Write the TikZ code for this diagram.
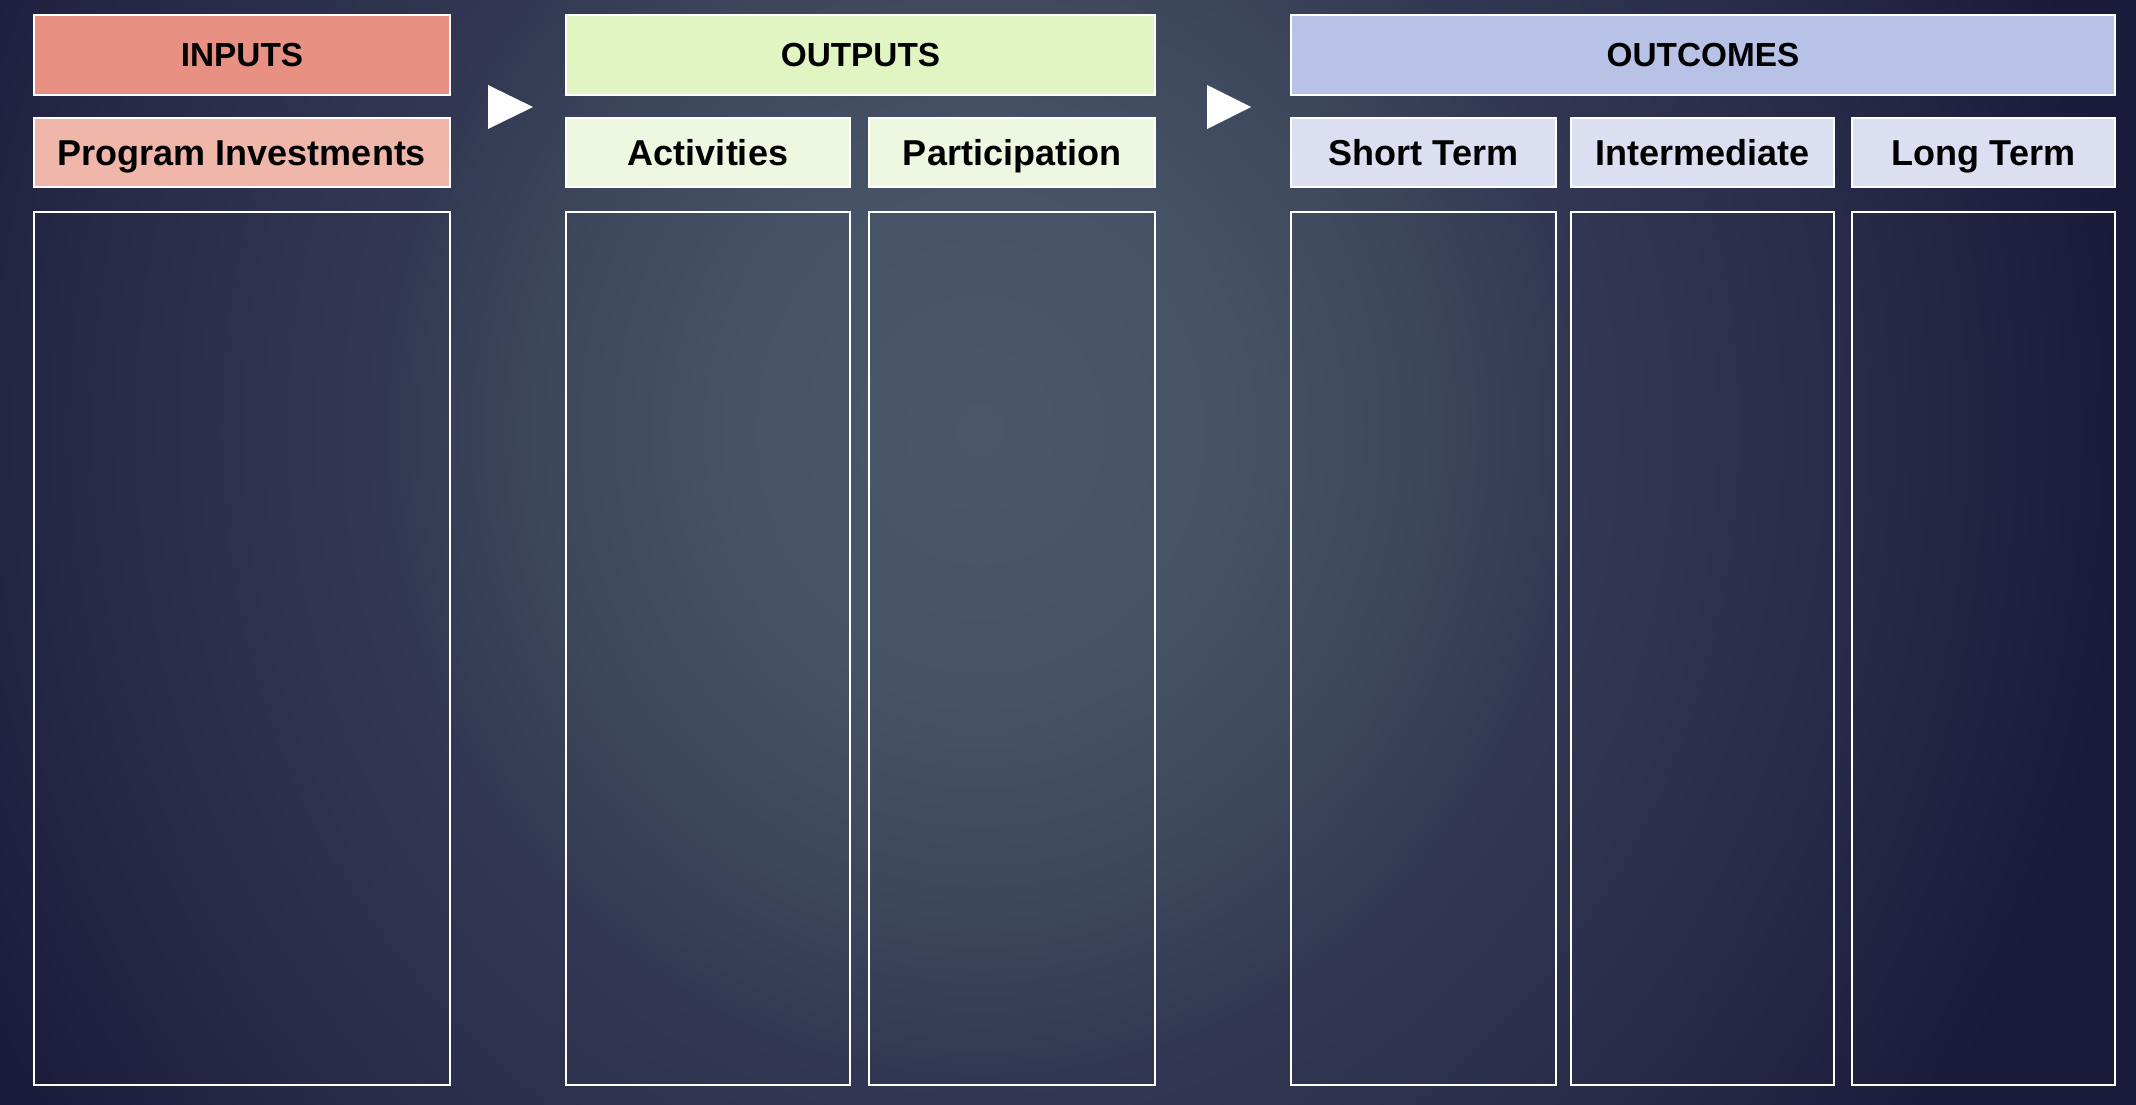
\documentclass[tikz,border=0pt]{standalone}
\usepackage{fontspec}
\setmainfont{Liberation Sans}
\definecolor{bgA}{HTML}{4B586A}
\definecolor{bgB}{HTML}{465266}
\definecolor{bgC}{HTML}{3E485C}
\definecolor{bgD}{HTML}{323853}
\definecolor{bgE}{HTML}{262946}
\definecolor{bgF}{HTML}{1A1A3A}
\definecolor{inHdr}{HTML}{E89182}
\definecolor{inSub}{HTML}{EFB6A9}
\definecolor{outHdr}{HTML}{E0F5C2}
\definecolor{outSub}{HTML}{EEF8E1}
\definecolor{ocHdr}{HTML}{B8C1E6}
\definecolor{ocSub}{HTML}{DCDFF2}
\pgfdeclareradialshading{bgsh}{\pgfpoint{0bp}{0bp}}{color(0bp)=(bgA); color(5.4bp)=(bgB); color(9.3bp)=(bgC); color(13bp)=(bgD); color(20bp)=(bgE); color(25bp)=(bgF); color(50bp)=(bgF)}
\tikzset{
  hdrbox/.style={draw=white, line width=1.8pt, inner sep=0pt, minimum height=60pt,
    text height=17.9pt, text depth=0pt, font=\fontsize{25}{25}\selectfont\bfseries, text=black},
  subbox/.style={draw=white, line width=1.8pt, inner sep=0pt, minimum height=51.75pt,
    text height=19.3pt, text depth=0pt, font=\fontsize{27}{27}\selectfont\bfseries, text=black},
  colbox/.style={draw=white, line width=1.3pt, inner sep=0pt, minimum height=654.75pt},
  tri/.style={fill=white, draw=none}
}
\begin{document}
\begin{tikzpicture}[x=0.75pt, y=-0.75pt]
\useasboundingbox (0,0) rectangle (2136,1104);
\fill[bgF] (-6,-6) rectangle (2142,1110);
\begin{scope}
  \clip (-6,-6) rectangle (2142,1110);
  \shade[shading=bgsh] (980,430) ellipse (1150 and 1250);
\end{scope}
% INPUTS
\node[hdrbox, fill=inHdr, minimum width=312pt] (inputs) at (242,55) {INPUTS};
\node[subbox, fill=inSub, minimum width=312pt] (invest) at (242,152.5) {Program Investments};
\node[colbox, minimum width=312pt] (incol) at (242,648.5) {};
% arrow 1
\fill[tri] (488,85) -- (533,107) -- (488,129) -- cycle;
% OUTPUTS
\node[hdrbox, fill=outHdr, minimum width=441.75pt] (outputs) at (860.5,55) {OUTPUTS};
\node[subbox, fill=outSub, minimum width=213pt] (activ) at (708,152.5) {Activities};
\node[subbox, fill=outSub, minimum width=214.5pt] (partic) at (1012,152.5) {Participation};
\node[colbox, minimum width=213pt] (activcol) at (708,648.5) {};
\node[colbox, minimum width=214.5pt] (particcol) at (1012,648.5) {};
% arrow 2
\fill[tri] (1207,85) -- (1251,107) -- (1207,129) -- cycle;
% OUTCOMES
\node[hdrbox, fill=ocHdr, minimum width=618pt] (outcomes) at (1703,55) {OUTCOMES};
\node[subbox, fill=ocSub, minimum width=198.75pt] (short) at (1423.5,152.5) {Short Term};
\node[subbox, fill=ocSub, minimum width=197.25pt] (inter) at (1702.5,152.5) {Intermediate};
\node[subbox, fill=ocSub, minimum width=197.25pt] (long) at (1983.5,152.5) {Long Term};
\node[colbox, minimum width=198.75pt] (shortcol) at (1423.5,648.5) {};
\node[colbox, minimum width=197.25pt] (intercol) at (1702.5,648.5) {};
\node[colbox, minimum width=197.25pt] (longcol) at (1983.5,648.5) {};
\end{tikzpicture}
\end{document}
